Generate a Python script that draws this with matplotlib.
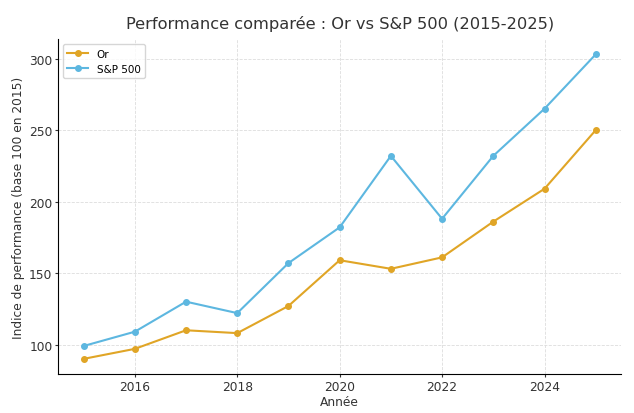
import matplotlib
matplotlib.use("Agg")
import matplotlib.pyplot as plt

years = [2015, 2016, 2017, 2018, 2019, 2020, 2021, 2022, 2023, 2024, 2025]
gold = [90, 97, 110, 108, 127, 159, 153, 161, 186, 209, 250]
sp500 = [99, 109, 130, 122, 157, 182, 232, 188, 232, 265, 303]

fig, ax = plt.subplots(figsize=(6.34, 4.14), dpi=100)
ax.plot(years, gold, label="Or", marker="o", color="#E0A526", linewidth=1.5, markersize=4)
ax.plot(years, sp500, label="S&P 500", marker="o", color="#5DB7E0", linewidth=1.5, markersize=4)

ax.set_title("Performance comparée : Or vs S&P 500 (2015-2025)", fontsize=11.7, color="#333333", pad=8)
ax.set_xlabel("Année", fontsize=8.8, color="#333333", labelpad=2)
ax.set_ylabel("Indice de performance (base 100 en 2015)", fontsize=8.8, color="#333333", labelpad=3)
ax.tick_params(labelsize=8.8, colors="#333333", length=2.5, pad=1.5)
ax.grid(True, linestyle="--", linewidth=0.6, color="#dddddd")
ax.spines["top"].set_visible(False)
ax.spines["right"].set_visible(False)
ax.legend(loc="upper left", fontsize=7.5)

fig.subplots_adjust(left=0.0915, right=0.98, top=0.903, bottom=0.094)
plt.savefig("out.png")
